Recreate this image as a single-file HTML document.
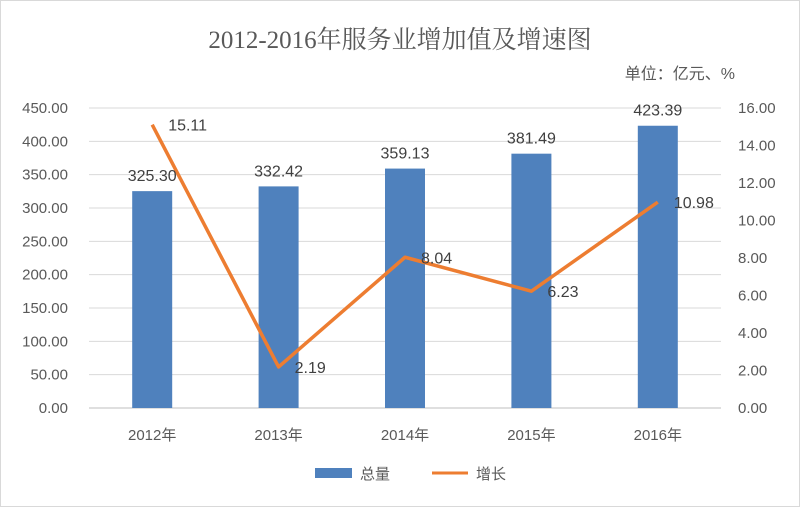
<!DOCTYPE html>
<html><head><meta charset="utf-8"><style>
html,body{margin:0;padding:0;background:#fff;}
svg text{font-family:"Liberation Sans","Noto Sans CJK SC",sans-serif;}
</style></head><body>
<svg width="800" height="507" viewBox="0 0 800 507" xmlns="http://www.w3.org/2000/svg">
<rect x="0.5" y="0.5" width="799" height="506" fill="#fff" stroke="#d9d9d9"/>
<text x="400" y="48" text-anchor="middle" font-size="25" fill="#595959" style="font-family:'Liberation Serif','Noto Serif CJK SC',serif">2012-2016年服务业增加值及增速图</text>
<text x="735" y="79" text-anchor="end" font-size="16" fill="#595959">单位：亿元、%</text>
<g id="grid"></g><g id="bars"></g><g id="line"></g><g id="labels"></g>
<g>
<rect x="315" y="468" width="37" height="10" fill="#4f81bd"/>
<text x="360" y="479" font-size="15" fill="#595959">总量</text>
<line x1="432" y1="473" x2="468" y2="473" stroke="#ed7d31" stroke-width="3"/>
<text x="476" y="479" font-size="15" fill="#595959">增长</text>
</g>
</svg>
<script>
const categories=["2012年","2013年","2014年","2015年","2016年"];
const totals=[325.30,332.42,359.13,381.49,423.39];
const growth=[15.11,2.19,8.04,6.23,10.98];
const leftTicks=[0,50,100,150,200,250,300,350,400,450];
const rightTicks=[0,2,4,6,8,10,12,14,16];
const NS="http://www.w3.org/2000/svg";
const x0=89,x1=721,yB=408,yT=108,lMax=450,rMax=16;
const band=(x1-x0)/categories.length;
const xc=i=>x0+band*(i+0.5);
const yl=v=>yB-(v/lMax)*(yB-yT);
const yr=v=>yB-(v/rMax)*(yB-yT);
function mk(tag,attrs,parent,txt){const e=document.createElementNS(NS,tag);for(const k in attrs)e.setAttribute(k,attrs[k]);if(txt!==undefined)e.textContent=txt;document.getElementById(parent).appendChild(e);return e;}
leftTicks.forEach(v=>{
 const g=mk("line",{x1:x0,x2:x1,y1:yl(v),y2:yl(v),stroke:v===0?"#bfbfbf":"#d9d9d9","stroke-width":1},"grid");
 
 
 const t=mk("text",{x:68,y:yl(v)+5,"text-anchor":"end","font-size":15,fill:"#595959"},"grid",v.toFixed(2));
 
 
});
rightTicks.forEach(v=>{
 const t=mk("text",{x:738,y:yr(v)+5,"font-size":15,fill:"#595959"},"grid",v.toFixed(2));
 
 
});
categories.forEach((c,i)=>{
 const t=mk("text",{x:xc(i),y:440,"text-anchor":"middle","font-size":15,fill:"#595959"},"grid",c);
 
 
 const b=mk("rect",{x:xc(i)-20,y:yl(totals[i]),width:40,height:yB-yl(totals[i]),fill:"#4f81bd"},"bars");
 
 
 const bl=mk("text",{x:xc(i),y:yl(totals[i])-10,"text-anchor":"middle","font-size":16,fill:"#404040"},"labels",totals[i].toFixed(2));
 
 
 const ll=mk("text",{x:xc(i)+16,y:yr(growth[i])+6,"font-size":16,fill:"#404040"},"labels",growth[i].toFixed(2));
 
 
});
const p=mk("polyline",{points:growth.map((v,i)=>xc(i)+","+yr(v)).join(" "),fill:"none",stroke:"#ed7d31","stroke-width":3.5,"stroke-linejoin":"round"},"line");


</script>
</body></html>
